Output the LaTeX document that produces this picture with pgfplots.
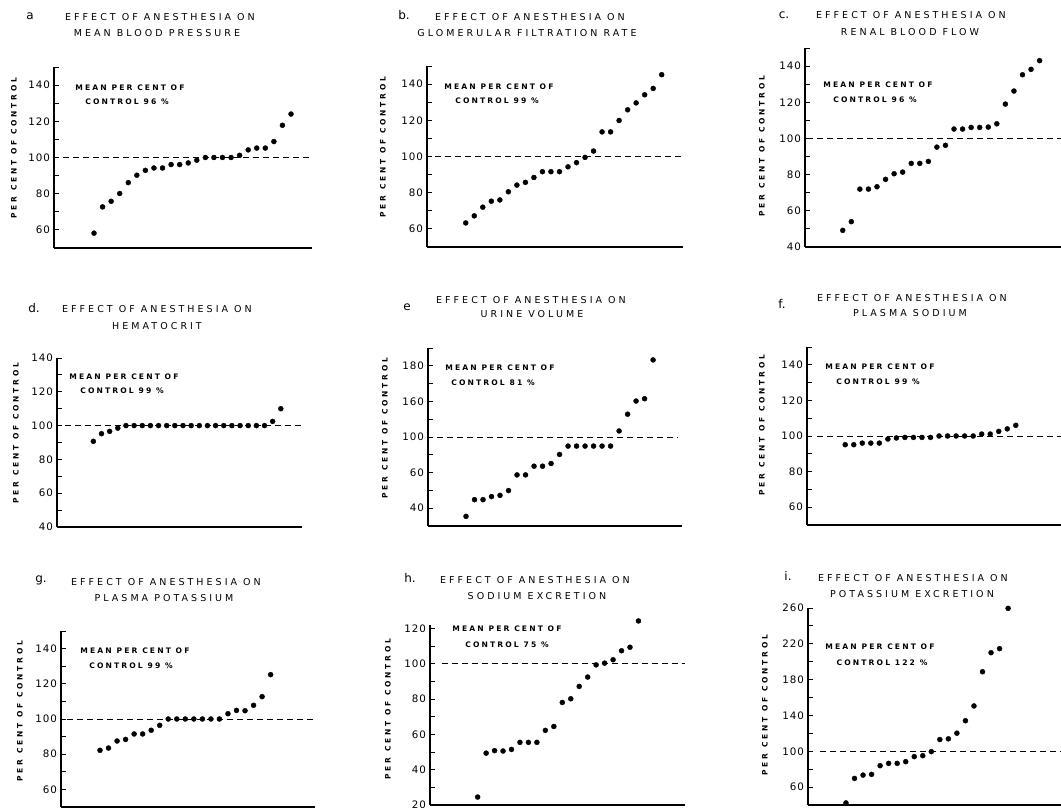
\documentclass[border=0pt]{standalone}
\usepackage{fontspec}
\setmainfont{DejaVu Sans}
\newfontfamily\titlefam{DejaVu Sans}[LetterSpace=32]
\newfontfamily\annofam{DejaVu Sans}[LetterSpace=28]
\newfontfamily\ylabfam{DejaVu Sans}[LetterSpace=38]
\newfontfamily\tickfam{DejaVu Sans}[LetterSpace=10]
\usepackage{pgfplots}
\pgfplotsset{compat=1.18}
\newcommand{\tfont}{\fontsize{9.5bp}{11bp}\selectfont\titlefam}
\newcommand{\afont}{\fontsize{7.6bp}{9bp}\selectfont\annofam\bfseries}
\newcommand{\yfont}{\fontsize{7.5bp}{8bp}\selectfont\ylabfam\bfseries}
\newcommand{\lfont}{\fontsize{12bp}{13bp}\selectfont}
\pgfplotsset{
  panel/.style={
    scale only axis, anchor=south west, clip=false,
    axis lines*=left,
    axis line style={-, line width=1.3bp},
    x axis line style={line width=2bp},
    xtick=\empty,
    tick align=inside,
    major tick length=5bp, minor tick length=5bp,
    tick style={line width=0.9bp, black},
    yticklabel style={font=\fontsize{10.3bp}{12bp}\selectfont\tickfam, xshift=-0.5bp},
    /pgf/number format/assume math mode=true,
  },
  pts/.style={only marks, mark=*, mark size=2.5bp, black},
  ref/.style={dash pattern=on 6bp off 4bp, line width=0.9bp, black},
}
\begin{document}
\begin{tikzpicture}[x=1bp, y=1bp]
\useasboundingbox (0bp,0bp) rectangle (1061bp,810bp);

% ---------- a ----------
\begin{axis}[panel, at={(54bp,562bp)}, width=258bp, height=181bp,
  xmin=-3.67, xmax=26.45, ymin=50, ymax=150,
  ytick={60,80,...,140}, minor ytick={50,70,...,150}]
\addplot[ref] coordinates {(-2.6,100) (26.45,100)};
\addplot[pts] coordinates {(1,58.2)(2,72.7)(3,75.8)(4,80.1)(5,86.1)(6,90.2)(7,92.9)(8,94.2)(9,94.2)(10,96.1)(11,96.1)(12,97)(13,98.5)(14,100)(15,100)(16,100)(17,100)(18,101.2)(19,104.2)(20,105.2)(21,105.2)(22,108.8)(23,117.8)(24,124)};
\end{axis}

% ---------- b ----------
\begin{axis}[panel, at={(427bp,563bp)}, width=256bp, height=181bp,
  xmin=-3.55, xmax=26.5, ymin=50, ymax=150,
  ytick={60,80,...,140}, minor ytick={50,70,...,150}]
\addplot[ref] coordinates {(-2.64,100) (26.5,100)};
\addplot[pts] coordinates {(1,63.3)(2,67.2)(3,72)(4,75.3)(5,76)(6,80.5)(7,84.2)(8,85.7)(9,88.4)(10,91.6)(11,91.6)(12,91.6)(13,94.3)(14,96.6)(15,99.5)(16,103)(17,113.6)(18,113.6)(19,119.9)(20,125.8)(21,129.6)(22,134.1)(23,137.6)(24,145.2)};
\end{axis}

% ---------- c ----------
\begin{axis}[panel, at={(805bp,563bp)}, width=256bp, height=199bp,
  xmin=-3.41, xmax=26.5, ymin=40, ymax=150,
  ytick={40,60,...,140}, minor ytick={50,70,...,150}]
\addplot[ref] coordinates {(-3.2,100) (26.5,100)};
\addplot[pts] coordinates {(1,49.2)(2,54)(3,72)(4,72)(5,73.3)(6,77.4)(7,80.5)(8,81.4)(9,86.2)(10,86.2)(11,87.3)(12,95.2)(13,96.2)(14,105.2)(15,105.2)(16,106.1)(17,106.1)(18,106.3)(19,108.1)(20,119)(21,126.2)(22,135.2)(23,138.2)(24,143)};
\end{axis}

% ---------- d ----------
\begin{axis}[panel, at={(57bp,283bp)}, width=245bp, height=169bp,
  xmin=-3.46, xmax=26.6, ymin=40, ymax=140,
  ytick={40,60,...,140}, minor ytick={50,70,...,130}]
\addplot[ref] coordinates {(-2.48,100) (26.6,100)};
\addplot[pts] coordinates {(1,90.7)(2,95.2)(3,96.6)(4,98.5)(5,100)(6,100)(7,100)(8,100)(9,100)(10,100)(11,100)(12,100)(13,100)(14,100)(15,100)(16,100)(17,100)(18,100)(19,100)(20,100)(21,100)(22,100)(23,102.5)(24,110)};
\end{axis}

% ---------- e ----------
\begin{axis}[panel, at={(428bp,284bp)}, width=254bp, height=178bp,
  xmin=-3.47, xmax=26.4, ymin=50, ymax=150,
  ytick={60,80,100,120,140}, yticklabels={40,60,100,160,180},
  minor ytick={50,70,...,150}]
\addplot[ref] coordinates {(-2.4,100) (25.9,100)};
\addplot[pts] coordinates {(1,55.4)(2,64.8)(3,64.8)(4,66.5)(5,67.2)(6,69.9)(7,78.7)(8,78.7)(9,83.6)(10,83.6)(11,85.1)(12,90.2)(13,94.9)(14,94.9)(15,94.9)(16,94.9)(17,94.9)(18,94.9)(19,103.4)(20,112.8)(21,120.2)(22,121.5)(23,143.3)};
\end{axis}

% ---------- f ----------
\begin{axis}[panel, at={(807bp,285bp)}, width=254bp, height=178bp,
  xmin=-3.48, xmax=26.3, ymin=50, ymax=150,
  ytick={60,80,...,140}, minor ytick={50,70,...,150}]
\addplot[ref] coordinates {(-2.3,100) (26.3,100)};
\addplot[pts] coordinates {(1,95.1)(2,95.1)(3,96)(4,96)(5,96)(6,98.3)(7,98.9)(8,99.2)(9,99.2)(10,99.2)(11,99.2)(12,100)(13,100)(14,100)(15,100)(16,100)(17,101.1)(18,101.1)(19,102.6)(20,104)(21,106)};
\end{axis}

% ---------- g ----------
\begin{axis}[panel, at={(61bp,3bp)}, width=254bp, height=176bp,
  xmin=-3.57, xmax=26.2, ymin=50, ymax=150,
  ytick={60,80,...,140}, minor ytick={50,70,...,150}]
\addplot[ref] coordinates {(-2.9,100) (26.2,100)};
\addplot[pts] coordinates {(1,82.2)(2,83.5)(3,87.5)(4,88.4)(5,91.5)(6,91.5)(7,93.6)(8,96.4)(9,100)(10,100)(11,100)(12,100)(13,100)(14,100)(15,100)(16,103)(17,104.9)(18,104.7)(19,107.8)(20,112.7)(21,125.2)};
\end{axis}

% ---------- h ----------
\begin{axis}[panel, at={(430bp,5bp)}, width=255bp, height=180bp,
  xmin=-4.63, xmax=25.5, ymin=20, ymax=122,
  ytick={20,40,...,120}, minor ytick={30,50,...,110}]
\addplot[ref] coordinates {(-3.26,100) (25.5,100)};
\addplot[pts] coordinates {(1,24.5)(2,49.4)(3,50.8)(4,50.6)(5,51.5)(6,55.5)(7,55.5)(8,55.5)(9,62.3)(10,64.5)(11,78.1)(12,80.2)(13,87.2)(14,92.5)(15,99.4)(16,100.4)(17,102.3)(18,107.4)(19,109.4)(20,124.3)};
\end{axis}

% ---------- i ----------
\begin{axis}[panel, at={(808bp,5bp)}, width=253bp, height=197bp,
  xmin=-3.45, xmax=26.2, ymin=40, ymax=260,
  ytick={60,100,...,260}, minor ytick={40,80,...,240}]
\addplot[ref] coordinates {(-2.04,100) (26.2,100)};
\addplot[pts] coordinates {(1,42.3)(2,69.7)(3,73.4)(4,74.2)(5,83.9)(6,86.5)(7,86.5)(8,88.4)(9,94)(10,95.1)(11,99.6)(12,113.1)(13,113.9)(14,120.2)(15,134.1)(16,150.6)(17,188.8)(18,210.1)(19,214.6)(20,259.6)};
\end{axis}

% ---------- titles ----------
\begin{scope}[every node/.style={inner sep=0pt, anchor=center}]
\node[font=\lfont] at (30,{810-16}) {a};
\node[font=\lfont] at (404,{810-15}) {b.};
\node[font=\lfont] at (784,{810-15}) {c.};
\node[font=\lfont] at (34,{810-308}) {d.};
\node[font=\lfont] at (407,{810-307}) {e};
\node[font=\lfont] at (782,{810-304}) {f.};
\node[font=\lfont] at (41,{810-580}) {g.};
\node[font=\lfont] at (410,{810-578}) {h.};
\node[font=\lfont] at (788,{810-576}) {i.};
\node[font=\tfont] at (160,{810-17}) {EFFECT OF ANESTHESIA ON};
\node[font=\tfont] at (157,{810-33}) {MEAN BLOOD PRESSURE};
\node[font=\tfont] at (530,{810-17}) {EFFECT OF ANESTHESIA ON};
\node[font=\tfont] at (527,{810-33}) {GLOMERULAR FILTRATION RATE};
\node[font=\tfont] at (911,{810-15.5}) {EFFECT OF ANESTHESIA ON};
\node[font=\tfont] at (910,{810-32}) {RENAL BLOOD FLOW};
\node[font=\tfont] at (157,{810-309}) {EFFECT OF ANESTHESIA ON};
\node[font=\tfont] at (157,{810-326}) {HEMATOCRIT};
\node[font=\tfont] at (531,{810-300}) {EFFECT OF ANESTHESIA ON};
\node[font=\tfont] at (532,{810-314}) {URINE VOLUME};
\node[font=\tfont] at (912,{810-298}) {EFFECT OF ANESTHESIA ON};
\node[font=\tfont] at (910,{810-313}) {PLASMA SODIUM};
\node[font=\tfont] at (166,{810-582}) {EFFECT OF ANESTHESIA ON};
\node[font=\tfont] at (164,{810-598}) {PLASMA POTASSIUM};
\node[font=\tfont] at (535,{810-580}) {EFFECT OF ANESTHESIA ON};
\node[font=\tfont] at (537,{810-596}) {SODIUM EXCRETION};
\node[font=\tfont] at (913,{810-578}) {EFFECT OF ANESTHESIA ON};
\node[font=\tfont] at (912,{810-594}) {POTASSIUM EXCRETION};
\node[font=\afont] at (130,{810-88}) {MEAN PER CENT OF};
\node[font=\afont] at (127,{810-102}) {CONTROL 96 \%};
\node[font=\afont] at (499,{810-87}) {MEAN PER CENT OF};
\node[font=\afont] at (497,{810-101}) {CONTROL 99 \%};
\node[font=\afont] at (878,{810-85}) {MEAN PER CENT OF};
\node[font=\afont] at (875,{810-100}) {CONTROL 96 \%};
\node[font=\afont] at (124,{810-377}) {MEAN PER CENT OF};
\node[font=\afont] at (122,{810-391}) {CONTROL 99 \%};
\node[font=\afont] at (500,{810-368}) {MEAN PER CENT OF};
\node[font=\afont] at (493,{810-383}) {CONTROL 81 \%};
\node[font=\afont] at (880,{810-367}) {MEAN PER CENT OF};
\node[font=\afont] at (878,{810-382}) {CONTROL 99 \%};
\node[font=\afont] at (135,{810-651}) {MEAN PER CENT OF};
\node[font=\afont] at (131,{810-666}) {CONTROL 99 \%};
\node[font=\afont] at (507,{810-629}) {MEAN PER CENT OF};
\node[font=\afont] at (507,{810-645}) {CONTROL 75 \%};
\node[font=\afont] at (880,{810-647}) {MEAN PER CENT OF};
\node[font=\afont] at (882,{810-663}) {CONTROL 122 \%};
\node[font=\yfont, rotate=90] at (14,{810-148}) {PER CENT OF CONTROL};
\node[font=\yfont, rotate=90] at (383,{810-147}) {PER CENT OF CONTROL};
\node[font=\yfont, rotate=90] at (762,{810-146}) {PER CENT OF CONTROL};
\node[font=\yfont, rotate=90] at (16,{810-433}) {PER CENT OF CONTROL};
\node[font=\yfont, rotate=90] at (385,{810-428}) {PER CENT OF CONTROL};
\node[font=\yfont, rotate=90] at (762,{810-425}) {PER CENT OF CONTROL};
\node[font=\yfont, rotate=90] at (20,{810-711}) {PER CENT OF CONTROL};
\node[font=\yfont, rotate=90] at (388,{810-709}) {PER CENT OF CONTROL};
\node[font=\yfont, rotate=90] at (765,{810-705}) {PER CENT OF CONTROL};
\end{scope}
\end{tikzpicture}
\end{document}
